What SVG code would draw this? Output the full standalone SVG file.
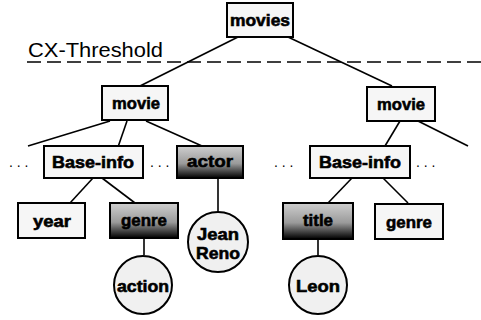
<svg xmlns="http://www.w3.org/2000/svg" width="481" height="320" viewBox="0 0 481 320">
<defs>
<linearGradient id="dark" x1="0" y1="0" x2="0" y2="1">
<stop offset="0" stop-color="#cfcfcf"/>
<stop offset="0.55" stop-color="#9a9a9a"/>
<stop offset="0.8" stop-color="#444"/>
<stop offset="1" stop-color="#000"/>
</linearGradient>
<style>
.box{fill:#f6f6f6;stroke:#000;stroke-width:2}
.dbox{fill:url(#dark);stroke:#000;stroke-width:2}
.circ{fill:#f0f0f0;stroke:#000;stroke-width:2}
.lbl{font-family:"Liberation Sans",Arial,sans-serif;font-weight:bold;font-size:17px;fill:#000;stroke:#000;stroke-width:0.6;text-anchor:middle}
.dlbl{font-family:"Liberation Sans",Arial,sans-serif;font-weight:bold;font-size:17px;fill:#000;stroke:#000;stroke-width:0.6;text-anchor:middle}
.edge{stroke:#000;stroke-width:1.6;fill:none}
.dots{font-family:"Liberation Sans",Arial,sans-serif;font-size:14px;fill:#000}
</style>
</defs>
<rect width="481" height="320" fill="#fff"/>
<text x="28" y="57" font-family="Liberation Sans, Arial, sans-serif" font-size="20" textLength="135" lengthAdjust="spacingAndGlyphs">CX-Threshold</text>
<line x1="27" y1="62" x2="481" y2="62" stroke="#000" stroke-width="1.6" stroke-dasharray="14,6"/>
<g id="connectors">
<line class="edge" x1="238" y1="37" x2="140" y2="86"/>
<line class="edge" x1="288" y1="37" x2="392" y2="86"/>
<line class="edge" x1="110" y1="121" x2="28" y2="146"/>
<line class="edge" x1="127" y1="121" x2="118" y2="147"/>
<line class="edge" x1="146" y1="121" x2="202" y2="146"/>
<line class="edge" x1="400" y1="121" x2="385" y2="146"/>
<line class="edge" x1="418" y1="121" x2="468" y2="146"/>
<line class="edge" x1="93" y1="178" x2="70" y2="203"/>
<line class="edge" x1="102" y1="178" x2="135" y2="203"/>
<line class="edge" x1="144" y1="238" x2="144" y2="255"/>
<line class="edge" x1="218" y1="178" x2="218" y2="212"/>
<line class="edge" x1="352" y1="178" x2="328" y2="203"/>
<line class="edge" x1="383" y1="178" x2="408" y2="203"/>
<line class="edge" x1="318" y1="239" x2="318" y2="255"/>
</g>
<g id="movies"><rect class="box" x="227" y="3" width="66" height="34"/><text class="lbl" x="260" y="26" textLength="60" lengthAdjust="spacingAndGlyphs">movies</text></g>
<g id="movie-left"><rect class="box" x="102" y="86" width="66" height="34"/><text class="lbl" x="136" y="109" textLength="48" lengthAdjust="spacingAndGlyphs">movie</text></g>
<g id="movie-right"><rect class="box" x="367" y="87" width="68" height="34"/><text class="lbl" x="401" y="110" textLength="48" lengthAdjust="spacingAndGlyphs">movie</text></g>
<g id="baseinfo-left"><rect class="box" x="44" y="146" width="99" height="32"/><text class="lbl" x="93" y="168" textLength="82" lengthAdjust="spacingAndGlyphs">Base-info</text></g>
<g id="actor"><rect class="dbox" x="177" y="146" width="66" height="32"/><text class="dlbl" x="210" y="167" textLength="46" lengthAdjust="spacingAndGlyphs">actor</text></g>
<g id="baseinfo-right"><rect class="box" x="310" y="146" width="100" height="32"/><text class="lbl" x="360" y="168" textLength="82" lengthAdjust="spacingAndGlyphs">Base-info</text></g>
<g id="dots">
<text class="dots" x="9" y="167">. . .</text>
<text class="dots" x="150" y="167">. . .</text>
<text class="dots" x="274" y="167">. . .</text>
<text class="dots" x="416" y="167">. . .</text>
</g>
<g id="year"><rect class="box" x="18" y="203" width="67" height="35"/><text class="lbl" x="52" y="227" textLength="38" lengthAdjust="spacingAndGlyphs">year</text></g>
<g id="genre-left"><rect class="dbox" x="110" y="203" width="68" height="35"/><text class="dlbl" x="144" y="226" textLength="46" lengthAdjust="spacingAndGlyphs">genre</text></g>
<g id="title"><rect class="dbox" x="283" y="203" width="70" height="36"/><text class="dlbl" x="318" y="226" textLength="30" lengthAdjust="spacingAndGlyphs">title</text></g>
<g id="genre-right"><rect class="box" x="375" y="204" width="68" height="35"/><text class="lbl" x="409" y="228" textLength="46" lengthAdjust="spacingAndGlyphs">genre</text></g>
<g id="action"><circle class="circ" cx="143" cy="285" r="29"/><text class="lbl" x="143" y="292" textLength="52" lengthAdjust="spacingAndGlyphs">action</text></g>
<g id="jean-reno"><circle class="circ" cx="218" cy="242" r="30"/><text class="lbl" x="218" y="240" textLength="42" lengthAdjust="spacingAndGlyphs">Jean</text><text class="lbl" x="218" y="259" textLength="44" lengthAdjust="spacingAndGlyphs">Reno</text></g>
<g id="leon"><circle class="circ" cx="318" cy="285" r="29"/><text class="lbl" x="318" y="292" textLength="44" lengthAdjust="spacingAndGlyphs">Leon</text></g>
</svg>
